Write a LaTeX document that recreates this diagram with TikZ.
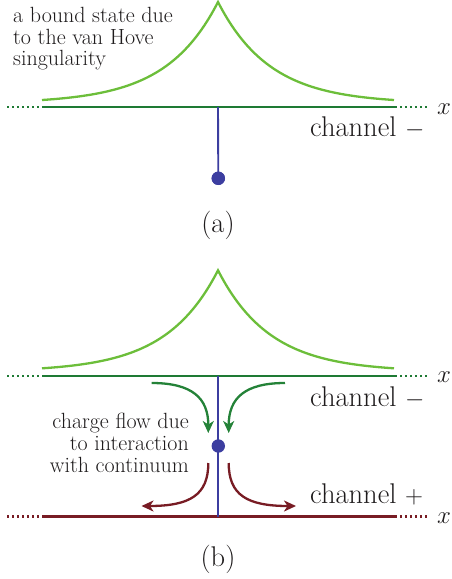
\documentclass[tikz,border=0pt]{standalone}
\usetikzlibrary{arrows.meta}
\definecolor{curvegreen}{RGB}{108,190,58}
\definecolor{axisgreen}{RGB}{30,122,52}
\definecolor{arrowgreen}{RGB}{36,130,56}
\definecolor{stemblue}{RGB}{60,62,160}
\definecolor{maroon}{RGB}{120,28,36}
\definecolor{textgray}{RGB}{30,27,28}
\tikzset{
  peakcurve/.style={curvegreen, line width=2.3pt, line join=miter},
  axissolid/.style={line width=2.4pt},
  axisdots/.style={line width=2.2pt, dash pattern=on 2.4pt off 2.6pt},
  stem/.style={stemblue, line width=1.9pt},
  bluedot/.style={circle, fill=stemblue, inner sep=0pt, minimum size=13.4pt},
  smalltxt/.style={inner sep=0pt, text=textgray, font=\fontsize{22}{21.7}\selectfont},
  bigtxt/.style={inner sep=0pt, text=textgray, font=\fontsize{28.5}{30}\selectfont},
  flow/.style={line width=2.3pt, -{Stealth[length=12pt,width=11pt,inset=3.5pt]}},
}
\begin{document}
\begin{tikzpicture}[x=1pt,y=-1pt]
\useasboundingbox (0,0) rectangle (452,579);

% ---------- panel (a) ----------
\draw[peakcurve] plot[domain=-176:176, samples=161]
  ({218+\x},{100-101.4*(exp(-abs(\x)/52)-0.0339)});
\coordinate (aL) at (7,107);
\coordinate (aA) at (42,107);
\coordinate (aB) at (395,107);
\coordinate (aR) at (428,107);
\coordinate (aC) at (218,107);
\draw[axisdots, axisgreen] (aL) -- (aA);
\draw[axissolid, axisgreen] (aA) -- (aB);
\draw[axisdots, axisgreen] (aB) -- (aR);
\node[bluedot] (dotA) at (218.3,178.3) {};
\draw[stem] (aC) -- (dotA.center);
\node[bluedot] at (dotA) {};
\node[bigtxt, anchor=base west] (xa) at (437,114) {$x$};
\node[bigtxt, anchor=base west] (cha) at (310,136.5) {channel $-$};
\node[smalltxt, anchor=base west] (t1) at (13,22.7) {a bound state due};
\node[smalltxt, anchor=base west] (t2) at (13,44.3) {to the van Hove};
\node[smalltxt, anchor=base west] (t3) at (13,65.6) {singularity};
\node[bigtxt, anchor=base] (laba) at (218,232) {(a)};

% ---------- panel (b) ----------
\draw[peakcurve] plot[domain=-176:176, samples=161]
  ({218+\x},{368.3-101.4*(exp(-abs(\x)/52)-0.0339)});
\coordinate (bL) at (7,375.7);
\coordinate (bA) at (42,375.7);
\coordinate (bB) at (395,375.7);
\coordinate (bR) at (428,375.7);
\coordinate (bC) at (218,375.7);
\draw[axisdots, axisgreen] (bL) -- (bA);
\draw[axissolid, axisgreen] (bA) -- (bB);
\draw[axisdots, axisgreen] (bB) -- (bR);
\coordinate (cL) at (7,516.5);
\coordinate (cA) at (42,516.5);
\coordinate (cB) at (395,516.5);
\coordinate (cR) at (428,516.5);
\coordinate (cC) at (218,516.5);
\draw[axisdots, maroon] (cL) -- (cA);
\draw[axissolid, maroon] (cA) -- (cB);
\draw[axisdots, maroon] (cB) -- (cR);
\draw[stem] (bC) -- (cC);
\node[bluedot] (dotB) at (218.3,446) {};

\coordinate (g1s) at (151.7,383);
\coordinate (g1e) at (208.3,433);
\coordinate (g2s) at (285,383);
\coordinate (g2e) at (228.7,433);
\coordinate (r1s) at (208.3,463);
\coordinate (r1e) at (141.5,506);
\coordinate (r2s) at (228.7,463);
\coordinate (r2e) at (296,506);
\draw[flow, arrowgreen] (g1s) .. controls (192,383) and (208.3,398) .. (g1e);
\draw[flow, arrowgreen] (g2s) .. controls (245,383) and (228.7,398) .. (g2e);
\draw[flow, maroon] (r1s) .. controls (208.3,495) and (190,506) .. (r1e);
\draw[flow, maroon] (r2s) .. controls (228.7,495) and (247,506) .. (r2e);

\node[bigtxt, anchor=base west] (xb) at (437,382.5) {$x$};
\node[bigtxt, anchor=base west] (xc) at (437,523.5) {$x$};
\node[bigtxt, anchor=base west] (chb) at (310,406) {channel $-$};
\node[bigtxt, anchor=base west] (chc) at (310,503.5) {channel $+$};
\node[smalltxt, anchor=base east] (f1) at (189,428) {charge flow due};
\node[smalltxt, anchor=base east] (f2) at (189,450.5) {to interaction};
\node[smalltxt, anchor=base east] (f3) at (189,472.3) {with continuum};
\node[bigtxt, anchor=base] (labb) at (218,566) {(b)};
\end{tikzpicture}
\end{document}
